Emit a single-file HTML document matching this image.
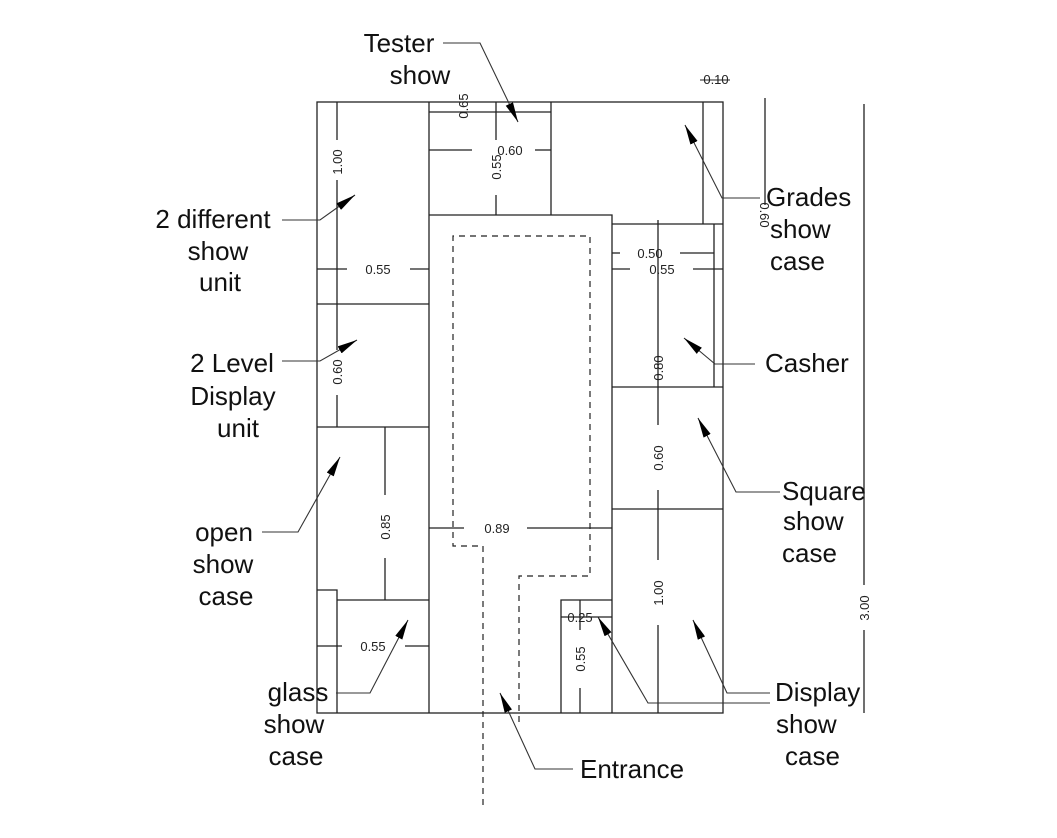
<!DOCTYPE html>
<html><head><meta charset="utf-8"><style>
html,body{margin:0;padding:0;background:#fff;}
svg{display:block;}
.l{font-family:"Liberation Sans",Arial,sans-serif;font-size:26px;fill:#111;text-anchor:middle;}
.r{font-family:"Liberation Sans",Arial,sans-serif;font-size:26px;fill:#111;text-anchor:start;}
.d{font-family:"Liberation Sans",Arial,sans-serif;font-size:13px;fill:#222;text-anchor:middle;}
</style></head><body>
<svg width="1057" height="838" viewBox="0 0 1057 838" xmlns="http://www.w3.org/2000/svg">
<defs>
<marker id="b" viewBox="0 0 20 8" markerWidth="20" markerHeight="8" refX="20" refY="4" orient="auto" markerUnits="userSpaceOnUse"><path d="M0,0 L20,4 L0,8 Z" fill="#000"/></marker></defs>
<g stroke="#222" stroke-width="1.3" fill="none">
<rect x="317" y="102" width="406" height="611"/>
<line x1="429" y1="102" x2="429" y2="713"/>
<line x1="429" y1="112" x2="551" y2="112"/>
<line x1="551" y1="102" x2="551" y2="215"/>
<polyline points="429,215 612,215 612,713"/>
<line x1="703" y1="102" x2="703" y2="224"/>
<line x1="612" y1="224" x2="723" y2="224"/>
<line x1="714" y1="224" x2="714" y2="387"/>
<line x1="612" y1="387" x2="723" y2="387"/>
<line x1="612" y1="509" x2="723" y2="509"/>
<line x1="317" y1="304" x2="429" y2="304"/>
<line x1="317" y1="427" x2="429" y2="427"/>
<line x1="337" y1="600" x2="429" y2="600"/>
<polyline points="317,590 337,590 337,713"/>
<polyline points="561,713 561,600 612,600"/>
<line x1="561" y1="617" x2="612" y2="617"/>
<line x1="337" y1="102" x2="337" y2="140"/><line x1="337" y1="180" x2="337" y2="350"/><line x1="337" y1="395" x2="337" y2="427"/>
<line x1="317" y1="269" x2="347" y2="269"/><line x1="410" y1="269" x2="429" y2="269"/>
<line x1="385" y1="427" x2="385" y2="495"/><line x1="385" y1="558" x2="385" y2="600"/>
<line x1="317" y1="646" x2="342" y2="646"/><line x1="405" y1="646" x2="429" y2="646"/>
<line x1="496" y1="102" x2="496" y2="140"/><line x1="496" y1="195" x2="496" y2="215"/>
<line x1="429" y1="150" x2="472" y2="150"/><line x1="535" y1="150" x2="551" y2="150"/>
<line x1="429" y1="528" x2="464" y2="528"/><line x1="527" y1="528" x2="612" y2="528"/>
<line x1="658" y1="220" x2="658" y2="425"/><line x1="658" y1="490" x2="658" y2="560"/><line x1="658" y1="625" x2="658" y2="713"/>
<line x1="612" y1="253" x2="620" y2="253"/><line x1="680" y1="253" x2="714" y2="253"/>
<line x1="612" y1="269" x2="630" y2="269"/><line x1="693" y1="269" x2="723" y2="269"/>
<line x1="580" y1="600" x2="580" y2="630"/><line x1="580" y1="688" x2="580" y2="713"/>
<line x1="765" y1="98" x2="765" y2="205"/>
<line x1="864" y1="104" x2="864" y2="585"/><line x1="864" y1="630" x2="864" y2="713"/>
</g>
<g stroke="#222" stroke-width="1.2" fill="none" stroke-dasharray="6,5">
<polyline points="483,805 483,546 453,546 453,236 590,236 590,576 519,576 519,727"/>
</g>
<g class="d">
<text transform="translate(342,162) rotate(-90)">1.00</text>
<text transform="translate(342,372) rotate(-90)">0.60</text>
<text x="378" y="274">0.55</text>
<text transform="translate(390,527) rotate(-90)">0.85</text>
<text x="373" y="651">0.55</text>
<text transform="translate(468,106) rotate(-90)">0.65</text>
<text transform="translate(501,167) rotate(-90)">0.55</text>
<text x="510" y="155">0.60</text>
<text x="497" y="533">0.89</text>
<text x="650" y="258">0.50</text>
<text x="662" y="274">0.55</text>
<text transform="translate(663,368) rotate(-90)">0.80</text>
<text transform="translate(663,458) rotate(-90)">0.60</text>
<text transform="translate(663,593) rotate(-90)">1.00</text>
<text x="580" y="622">0.25</text>
<text transform="translate(585,659) rotate(-90)">0.55</text>
<text transform="translate(760,215) rotate(90)">0.60</text>
<text transform="translate(869,608) rotate(-90)">3.00</text>
<text x="716" y="84">0.10</text>
</g>
<line x1="700" y1="80" x2="730" y2="80" stroke="#222" stroke-width="1"/>
<g stroke="#333" stroke-width="1.1" fill="none" marker-end="url(#b)">
<polyline points="443,43 480,43 518,122"/>
<polyline points="282,220 320,220 355,195"/>
<polyline points="282,361 320,361 357,340"/>
<polyline points="262,532 298,532 340,457"/>
<polyline points="336,693 370,693 408,620"/>
<polyline points="573,769 535,769 500,693"/>
<polyline points="770,693 727,693 693,620"/>
<polyline points="770,703 648,703 598,617"/>
<polyline points="780,492 736,492 698,418"/>
<polyline points="755,364 715,364 684,338"/>
<polyline points="760,198 722,198 685,125"/>
</g>
<g class="l">
<text x="399" y="52">Tester</text><text x="420" y="84">show</text>
<text x="213" y="228">2 different</text><text x="218" y="260">show</text><text x="220" y="291">unit</text>
<text x="232" y="372">2 Level</text><text x="233" y="405">Display</text><text x="238" y="437">unit</text>
<text x="224" y="541">open</text><text x="223" y="573">show</text><text x="226" y="605">case</text>
<text x="298" y="701">glass</text><text x="294" y="733">show</text><text x="296" y="765">case</text>
</g>
<g class="r">
<text x="580" y="778">Entrance</text>
<text x="775" y="701">Display</text><text x="776" y="733">show</text><text x="785" y="765">case</text>
<text x="782" y="500">Square</text><text x="783" y="530">show</text><text x="782" y="562">case</text>
<text x="765" y="372">Casher</text>
<text x="766" y="206">Grades</text><text x="770" y="238">show</text><text x="770" y="270">case</text>
</g>
</svg>
</body></html>
